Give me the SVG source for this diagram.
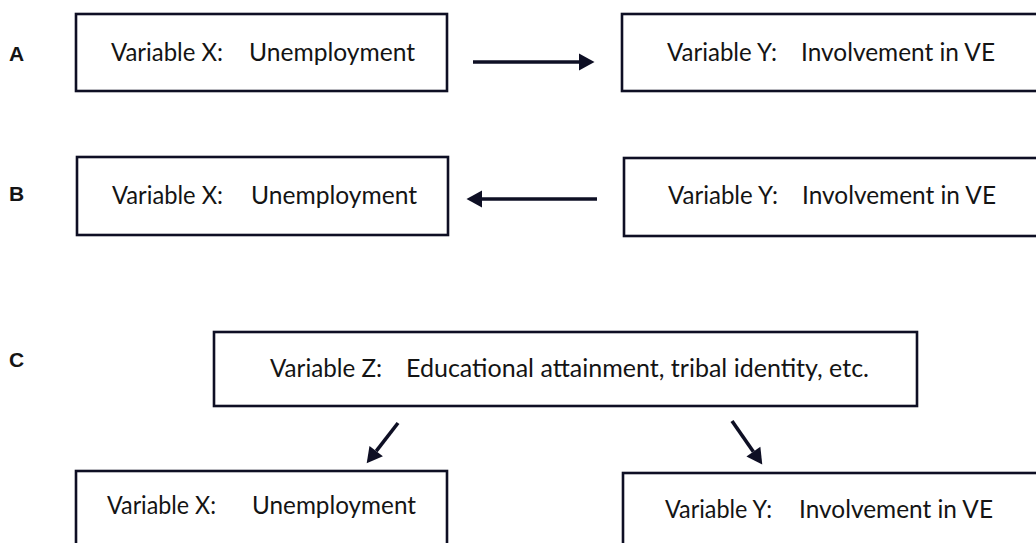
<svg xmlns="http://www.w3.org/2000/svg" width="1036" height="543" viewBox="0 0 1036 543">
  <style>
    .box { fill: #ffffff; stroke: #0e0f24; stroke-width: 2.6; }
    .t { font-family: Lato, "Open Sans", "Liberation Sans", sans-serif; font-size: 25px; fill: #141414; }
    .lbl { font-family: "Liberation Sans", Arial, sans-serif; font-weight: bold; font-size: 21px; fill: #141414; }
    .arr { stroke: #0e0f24; stroke-width: 3.6; fill: none; marker-end: url(#head); }
  </style>
  <defs>
    <marker id="head" markerUnits="userSpaceOnUse" markerWidth="16" markerHeight="17" refX="0" refY="8.5" orient="auto" overflow="visible">
      <path d="M0,0 L15.5,8.5 L0,17 z" fill="#0e0f24"/>
    </marker>
  </defs>
  <rect x="0" y="0" width="1036" height="543" fill="#ffffff"/>

  <g id="labels">
    <text class="lbl" x="9" y="61">A</text>
    <text class="lbl" x="9" y="201">B</text>
    <text class="lbl" x="9" y="367">C</text>
  </g>

  <g id="nodeA-X">
    <rect class="box" x="76" y="14" width="371" height="77"/>
    <text class="t" y="61"><tspan x="111" textLength="112" lengthAdjust="spacingAndGlyphs">Variable X:</tspan><tspan x="249" textLength="166" lengthAdjust="spacingAndGlyphs">Unemployment</tspan></text>
  </g>
  <g id="nodeA-Y">
    <rect class="box" x="622" y="14" width="420" height="77"/>
    <text class="t" y="61"><tspan x="667" textLength="110" lengthAdjust="spacingAndGlyphs">Variable Y:</tspan><tspan x="801" textLength="194" lengthAdjust="spacingAndGlyphs">Involvement in VE</tspan></text>
  </g>

  <g id="nodeB-X">
    <rect class="box" x="77" y="157" width="371" height="78"/>
    <text class="t" y="204"><tspan x="112" textLength="111" lengthAdjust="spacingAndGlyphs">Variable X:</tspan><tspan x="251" textLength="166" lengthAdjust="spacingAndGlyphs">Unemployment</tspan></text>
  </g>
  <g id="nodeB-Y">
    <rect class="box" x="624" y="158" width="420" height="78"/>
    <text class="t" y="204"><tspan x="668" textLength="110" lengthAdjust="spacingAndGlyphs">Variable Y:</tspan><tspan x="802" textLength="194" lengthAdjust="spacingAndGlyphs">Involvement in VE</tspan></text>
  </g>

  <g id="nodeC-Z">
    <rect class="box" x="214" y="332" width="703" height="74"/>
    <text class="t" y="377"><tspan x="270" textLength="112" lengthAdjust="spacingAndGlyphs">Variable Z:</tspan><tspan x="406" textLength="463" lengthAdjust="spacingAndGlyphs">Educational attainment, tribal identity, etc.</tspan></text>
  </g>
  <g id="nodeC-X">
    <rect class="box" x="76" y="471" width="371" height="82"/>
    <text class="t" y="514"><tspan x="107" textLength="109" lengthAdjust="spacingAndGlyphs">Variable X:</tspan><tspan x="252" textLength="164" lengthAdjust="spacingAndGlyphs">Unemployment</tspan></text>
  </g>
  <g id="nodeC-Y">
    <rect class="box" x="623" y="473" width="420" height="82"/>
    <text class="t" y="518"><tspan x="665" textLength="107" lengthAdjust="spacingAndGlyphs">Variable Y:</tspan><tspan x="799" textLength="194" lengthAdjust="spacingAndGlyphs">Involvement in VE</tspan></text>
  </g>

  <g id="connectors">
    <line class="arr" x1="473" y1="62" x2="579" y2="62"/>
    <line class="arr" x1="597" y1="199" x2="482" y2="199"/>
    <line class="arr" x1="398" y1="423" x2="376.2" y2="451.1"/>
    <line class="arr" x1="732" y1="421" x2="753.4" y2="451.7"/>
  </g>
</svg>
